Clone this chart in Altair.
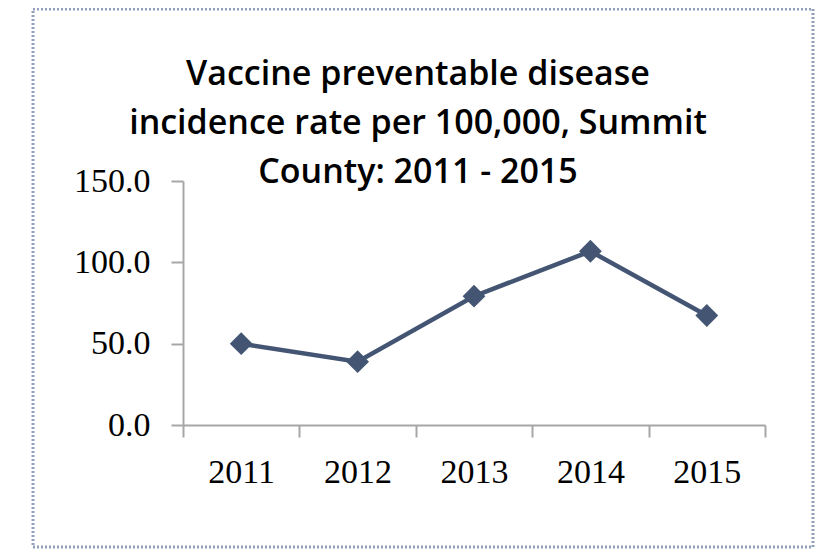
import altair as alt
import pandas as pd

years = ["2011", "2012", "2013", "2014", "2015"]
rates = [50.0, 38.9, 79.2, 106.8, 67.3]
title_lines = ["Vaccine preventable disease", "incidence rate per 100,000, Summit", "County: 2011 - 2015"]
y_ticks = [0, 50, 100, 150]

df = pd.DataFrame({"year": years, "rate": rates})

line_color = "#435573"
axis_color = "#a6a6a6"
tick_font = "Liberation Serif"

x_enc = alt.X(
    "year:N",
    bandPosition=0.5,
    scale=alt.Scale(type="band", paddingInner=0, paddingOuter=0),
    sort=years,
    axis=alt.Axis(
        title=None,
        tickBand="extent",
        labelAngle=0,
        labelFont=tick_font,
        labelFontSize=34,
        labelColor="#000000",
        labelPadding=18,
        tickSize=12,
        tickColor=axis_color,
        tickWidth=2,
        domainColor=axis_color,
        domainWidth=2,
    ),
)
y_enc = alt.Y(
    "rate:Q",
    scale=alt.Scale(domain=[0, 150]),
    axis=alt.Axis(
        title=None,
        values=y_ticks,
        format=".1f",
        grid=False,
        labelFont=tick_font,
        labelFontSize=34,
        labelColor="#000000",
        labelPadding=21,
        tickSize=12,
        tickColor=axis_color,
        tickWidth=2,
        domainColor=axis_color,
        domainWidth=2,
    ),
)

border = alt.Chart(pd.DataFrame({"k": [0]})).mark_rect(
    fill=None, stroke="#8e9fb7", strokeWidth=3, strokeDash=[2, 2]
).encode(
    x=alt.value(-150), x2=alt.value(630), y=alt.value(-172), y2=alt.value(366)
)

line = alt.Chart(df).mark_line(color=line_color, strokeWidth=4.5).encode(x=x_enc, y=y_enc)
points = alt.Chart(df).mark_point(
    shape="diamond", filled=True, size=520, color=line_color, opacity=1
).encode(x=x_enc, y=y_enc)

chart = alt.layer(border, line, points).properties(
    width=582,
    height=244,
    autosize=alt.AutoSizeParams(type="none"),
    padding={"left": 175, "top": 173, "right": 53, "bottom": 125},
    title=alt.TitleParams(
        text=title_lines,
        font="Open Sans",
        fontSize=34,
        fontWeight=600,
        color="#000000",
        anchor="middle",
        lineHeight=49,
        offset=0,
        dx=-56,
        dy=182,
    ),
).configure_view(stroke=None)

chart.save("out.html", embed_options={"renderer": "svg", "actions": False})
